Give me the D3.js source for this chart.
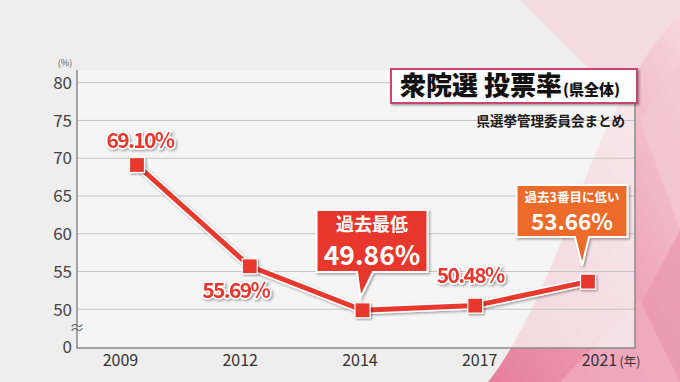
<!DOCTYPE html>
<html><head><meta charset="utf-8">
<script src="https://cdn.jsdelivr.net/npm/d3@7/dist/d3.min.js"></script>
<style>
html,body{margin:0;padding:0;background:#eeeeee;}
svg{display:block;}
text{font-family:"Noto Sans CJK JP","Noto Sans",sans-serif;}
</style></head>
<body>
<script>
// ---- data ----
const years = ["2009","2012","2014","2017","2021"];
const turnout = [69.10, 55.69, 49.86, 50.48, 53.66];
const valueLabels = ["69.10%","55.69%","49.86%","50.48%","53.66%"];
const yTicks = [45, 50, 55, 60, 65, 70, 75, 80];   // 45 = axis break, shown as "0"
const gridValues = [50, 55, 60, 65, 70, 75, 80];
const calloutTitles = {"2014":"過去最低","2021":"過去3番目に低い"};
const title = "衆院選 投票率";
const titleSub = "(県全体)";
const source = "県選挙管理委員会まとめ";

// ---- layout ----
const W = 680, H = 382;
const plot = {left:77, right:635, top:70, bottom:348};
const svg = d3.select("body").append("svg").attr("width",W).attr("height",H);
const defs = svg.append("defs");

const sh = defs.append("filter").attr("id","sh").attr("x","-20%").attr("y","-20%").attr("width","140%").attr("height","140%");
sh.append("feDropShadow").attr("dx",1.5).attr("dy",1.5).attr("stdDeviation",1).attr("flood-color","#000").attr("flood-opacity",0.35);

const g1 = defs.append("linearGradient").attr("id","pk").attr("x1","0").attr("y1","1").attr("x2","1").attr("y2","0");
g1.append("stop").attr("offset","0").attr("stop-color","#e67f9c");
g1.append("stop").attr("offset","0.5").attr("stop-color","#eea3b8");
g1.append("stop").attr("offset","1").attr("stop-color","#f6d6df");

// background
svg.append("rect").attr("width",W).attr("height",H).attr("fill","#eeeeee");
svg.append("path").attr("d","M520,0 L680,0 L680,160 Z").attr("fill","#f4dbe2");
svg.append("path").attr("d","M488,382 C525,335 555,260 585,180 C610,115 640,55 680,15 L680,382 Z").attr("fill","url(#pk)");
svg.append("path").attr("d","M600,382 L680,230 L680,382 Z").attr("fill","#eb9ab0").attr("opacity",0.8);
svg.append("path").attr("d","M560,382 L640,300 L680,382 Z").attr("fill","#f0b3c4").attr("opacity",0.6);
svg.append("path").attr("d","M640,120 L680,60 L680,230 Z").attr("fill","#f3c8d4").attr("opacity",0.7);

// plot area
svg.append("rect").attr("x",plot.left).attr("y",plot.top).attr("width",plot.right-plot.left).attr("height",plot.bottom-plot.top)
  .attr("fill","#f8f8f8").attr("fill-opacity",0.72);

const y = d3.scaleLinear().domain([45,80]).range([plot.bottom-1, 82.7]);
const xPt = d3.scalePoint().domain(years).range([137,588]);
const xLab = d3.scalePoint().domain(years).range([120,599]);

// gridlines
svg.append("g").selectAll("line").data(gridValues).join("line")
  .attr("x1",plot.left).attr("x2",plot.right).attr("y1",d=>y(d)).attr("y2",d=>y(d))
  .attr("stroke","#c4c4c4").attr("stroke-width",1);

// frame (left, bottom, right)
svg.append("path").attr("d",`M${plot.left},${plot.top}V${plot.bottom}H${plot.right}V${plot.top}`)
  .attr("fill","none").attr("stroke","#8a8a8a").attr("stroke-width",1.5);

// y axis labels
const yAxis = d3.axisLeft(y).tickValues(yTicks).tickSize(0).tickPadding(5).tickFormat(d=>d===45?"0":d);
const ya = svg.append("g").attr("transform",`translate(${plot.left},0)`).call(yAxis);
ya.select(".domain").remove();
ya.selectAll("text").attr("font-family","Roboto,'Noto Sans',sans-serif").attr("font-size",17).attr("fill","#444").attr("dy","0.34em");
svg.append("text").attr("x",65).attr("y",66).attr("text-anchor","middle").attr("font-size",9).attr("fill","#555").text("(%)");
// break mark
svg.append("text").attr("x",plot.left).attr("y",333).attr("text-anchor","middle").attr("font-size",15).attr("fill","#666")
  .attr("font-family","'DejaVu Sans',sans-serif").text("≈");

// x axis labels
const xAxis = d3.axisBottom(xLab).tickSize(0).tickPadding(7);
const xa = svg.append("g").attr("transform",`translate(0,${plot.bottom})`).call(xAxis);
xa.select(".domain").remove();
xa.selectAll("text").attr("font-family","Roboto,'Noto Sans',sans-serif").attr("font-size",16).attr("fill","#333");
svg.append("text").attr("x",xLab("2021")+31).attr("y",366).attr("text-anchor","middle").attr("font-size",12.5).attr("fill","#333").text("(年)");

// line
const pts = years.map((yr,i)=>({yr, v:turnout[i], lab:valueLabels[i]}));
const line = d3.line().x(d=>xPt(d.yr)).y(d=>y(d.v));
svg.append("path").datum(pts).attr("d",line).attr("fill","none").attr("stroke","#ffffff").attr("stroke-width",8).attr("filter","url(#sh)");
svg.append("path").datum(pts).attr("d",line).attr("fill","none").attr("stroke","#e8392e").attr("stroke-width",5);
svg.append("g").selectAll("rect").data(pts).join("rect")
  .attr("x",d=>xPt(d.yr)-7.5).attr("y",d=>y(d.v)-7.5).attr("width",15).attr("height",15)
  .attr("fill","#e8392e").attr("stroke","#fff").attr("stroke-width",1.2).attr("filter","url(#sh)");

// plain value labels
const plainOffsets = {"2009":{dx:3,dy:-17},"2012":{dx:-14,dy:32},"2017":{dx:-5,dy:-23}};
const plain = pts.filter(d=>!calloutTitles[d.yr]);
svg.append("g").selectAll("text").data(plain).join("text")
  .attr("x",d=>xPt(d.yr)+plainOffsets[d.yr].dx).attr("y",d=>y(d.v)+plainOffsets[d.yr].dy)
  .attr("text-anchor","middle").attr("font-family","Roboto,sans-serif").attr("font-weight","bold")
  .attr("font-size",21).attr("letter-spacing",-1.6)
  .attr("fill","#e8392e").attr("stroke","#fff").attr("stroke-width",3).attr("paint-order","stroke")
  .attr("filter","url(#sh)").text(d=>d.lab);

// callouts
const calloutLayout = {
  "2014":{cx:372, top:210, w:111, h:62, tipDx:-2, tipDy:-13, bx0:357, bx1:373, fill:"#e8392e", t1:18, t1y:21, t2:26.5, t2y:55},
  "2021":{cx:572, top:185, w:111, h:52, tipDx:-6, tipDy:-16, bx0:575, bx1:589, fill:"#ec6a2c", t1:12.5, t1y:17, t2:22.5, t2y:45}
};
pts.filter(d=>calloutTitles[d.yr]).forEach(d=>{
  const L = calloutLayout[d.yr];
  const tipX = xPt(d.yr)+L.tipDx, tipY = y(d.v)+L.tipDy;
  const x0 = L.cx-L.w/2, x1 = L.cx+L.w/2, y0 = L.top, y1 = L.top+L.h;
  const p = `M${x0},${y0}H${x1}V${y1}H${L.bx1}L${tipX},${tipY}L${L.bx0},${y1}H${x0}Z`;
  svg.append("path").attr("d",p).attr("fill",L.fill).attr("stroke","#fff").attr("stroke-width",2).attr("filter","url(#sh)");
  svg.append("text").attr("x",L.cx).attr("y",y0+L.t1y).attr("text-anchor","middle").attr("font-weight","bold")
    .attr("font-size",L.t1).attr("fill","#fff").text(calloutTitles[d.yr]);
  svg.append("text").attr("x",L.cx).attr("y",y0+L.t2y).attr("text-anchor","middle").attr("font-family","Roboto,sans-serif")
    .attr("font-weight","bold").attr("font-size",L.t2).attr("fill","#fff").text(d.lab);
});

// title box
svg.append("rect").attr("x",391).attr("y",69).attr("width",246).attr("height",34)
  .attr("fill","#fff").attr("stroke","#c9456f").attr("stroke-width",2).attr("filter","url(#sh)");
const tt = svg.append("text").attr("x",400).attr("y",95).attr("fill","#111").attr("font-weight","900");
tt.append("tspan").attr("font-size",26).text(title);
tt.append("tspan").attr("font-size",15).attr("dx",1).text(titleSub);
svg.append("text").attr("x",625).attr("y",126).attr("text-anchor","end").attr("font-size",13.5).attr("font-weight","bold")
  .attr("fill","#1a1a1a").text(source);
</script>
</body></html>
